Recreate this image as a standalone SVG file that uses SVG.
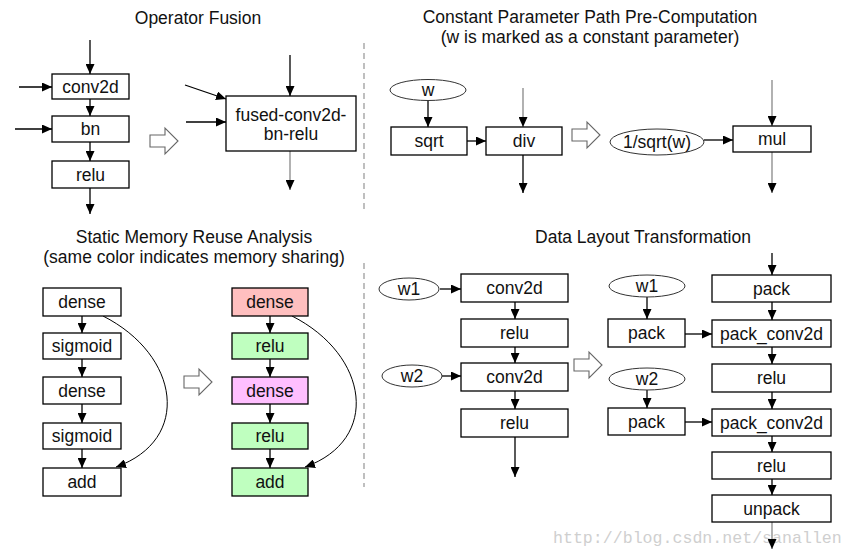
<svg xmlns="http://www.w3.org/2000/svg" width="855" height="555" viewBox="0 0 855 555">
<style>
  .bg{fill:#fff}
  .box{fill:#fff;stroke:#000;stroke-width:1.3}
  .ell{fill:#fff;stroke:#333;stroke-width:1}
  .t{font-family:"Liberation Sans",Arial,sans-serif;font-size:17.5px;fill:#111;text-anchor:middle}
  .title{font-family:"Liberation Sans",Arial,sans-serif;font-size:17.5px;fill:#111;text-anchor:middle}
  .c{stroke:#000;stroke-width:1.3;fill:none;marker-end:url(#ah)}
  .g{stroke:#888}
  .curve{stroke:#000;stroke-width:1;fill:none;marker-end:url(#ah)}
  .dash{stroke:#aaa;stroke-width:1.5;stroke-dasharray:6,4;fill:none}
  .hollow{fill:#fff;stroke:#666;stroke-width:1.1}
  .red{fill:#ffbfbf}
  .green{fill:#bfffbf}
  .mag{fill:#ffbfff}
  .wm{font-family:"Liberation Mono","DejaVu Sans Mono",monospace;font-size:16.6px;fill:#cfcfcf}
</style>
<defs>
  <marker id="ah" markerUnits="userSpaceOnUse" markerWidth="10" markerHeight="9" refX="10" refY="4.5" orient="auto">
    <path d="M0,0 L10,4.5 L0,9 Z" fill="#000"/>
  </marker>
  <path id="harrow" d="M0,7 H15 V0 L28,13 L15,26 V19 H0 Z"/>
</defs>
<rect class="bg" x="0" y="0" width="855" height="555"/>

<text class="wm" x="553" y="543">http://blog.csdn.net/sanallen</text>

<g id="titles">
  <text class="title" x="198" y="24">Operator Fusion</text>
  <text class="title" x="590" y="23">Constant Parameter Path Pre-Computation</text>
  <text class="title" x="590" y="43">(w is marked as a constant parameter)</text>
  <text class="title" x="194" y="243">Static Memory Reuse Analysis</text>
  <text class="title" x="194" y="263">(same color indicates memory sharing)</text>
  <text class="title" x="643" y="243">Data Layout Transformation</text>
</g>

<g id="separators">
  <line class="dash" x1="364" y1="43" x2="364" y2="212"/>
  <line class="dash" x1="364" y1="263" x2="364" y2="487"/>
</g>

<g id="transform-arrows">
  <use href="#harrow" class="hollow" x="150" y="128"/>
  <use href="#harrow" class="hollow" x="572" y="122"/>
  <use href="#harrow" class="hollow" x="184" y="369"/>
  <use href="#harrow" class="hollow" x="574" y="352"/>
</g>

<g id="connectors">
  <line class="c" x1="90" y1="40" x2="90" y2="74"/>
  <line class="c" x1="19" y1="87" x2="52" y2="87"/>
  <line class="c" x1="90" y1="99" x2="90" y2="116"/>
  <line class="c" x1="15" y1="129" x2="52" y2="129"/>
  <line class="c" x1="90" y1="142" x2="90" y2="161"/>
  <line class="c" x1="90" y1="188" x2="90" y2="214"/>
  <line class="c" x1="290" y1="55" x2="290" y2="96"/>
  <line class="c" x1="185" y1="85" x2="226" y2="99"/>
  <line class="c" x1="186" y1="122" x2="226" y2="122"/>
  <line class="c g" x1="290" y1="151" x2="290" y2="190"/>
  <line class="c" x1="428" y1="101" x2="428" y2="127"/>
  <line class="c" x1="467" y1="141" x2="486" y2="141"/>
  <line class="c g" x1="523" y1="88" x2="523" y2="127"/>
  <line class="c" x1="523" y1="155" x2="523" y2="193"/>
  <line class="c" x1="704" y1="140" x2="733" y2="140"/>
  <line class="c g" x1="772" y1="80" x2="772" y2="126"/>
  <line class="c g" x1="772" y1="152" x2="772" y2="193"/>
  <line class="c" x1="82" y1="316" x2="82" y2="333"/>
  <line class="c" x1="82" y1="359" x2="82" y2="377"/>
  <line class="c" x1="82" y1="404" x2="82" y2="423"/>
  <line class="c" x1="82" y1="449" x2="82" y2="468"/>
  <path class="curve" d="M103,316 C180,355 192,440 116,467"/>
  <line class="c" x1="270" y1="316" x2="270" y2="333"/>
  <line class="c" x1="270" y1="359" x2="270" y2="377"/>
  <line class="c" x1="270" y1="404" x2="270" y2="423"/>
  <line class="c" x1="270" y1="449" x2="270" y2="468"/>
  <path class="curve" d="M292,316 C369,355 381,440 305,467"/>
  <line class="c" x1="440" y1="289" x2="461" y2="289"/>
  <line class="c" x1="515" y1="277" x2="515" y2="319"/>
  <line class="c" x1="515" y1="347" x2="515" y2="363"/>
  <line class="c" x1="442" y1="376" x2="461" y2="376"/>
  <line class="c" x1="515" y1="391" x2="515" y2="409"/>
  <line class="c" x1="515" y1="437" x2="515" y2="477"/>
  <line class="c" x1="647" y1="297" x2="647" y2="319"/>
  <line class="c" x1="685" y1="334" x2="712" y2="334"/>
  <line class="c" x1="647" y1="390" x2="647" y2="408"/>
  <line class="c" x1="685" y1="422" x2="712" y2="422"/>
  <line class="c" x1="772" y1="253" x2="772" y2="275"/>
  <line class="c" x1="772" y1="302" x2="772" y2="320"/>
  <line class="c" x1="772" y1="347" x2="772" y2="364"/>
  <line class="c" x1="772" y1="392" x2="772" y2="409"/>
  <line class="c" x1="772" y1="436" x2="772" y2="452"/>
  <line class="c" x1="772" y1="479" x2="772" y2="495"/>
  <line class="c g" x1="772" y1="522" x2="772" y2="549"/>
</g>

<g id="of-conv2d"><rect class="box" x="52" y="74" width="77" height="25"/><text class="t" x="90.5" y="92.5">conv2d</text></g>
<g id="of-bn"><rect class="box" x="52" y="116" width="77" height="26"/><text class="t" x="90.5" y="135">bn</text></g>
<g id="of-relu"><rect class="box" x="52" y="161" width="77" height="27"/><text class="t" x="90.5" y="180.5">relu</text></g>
<g id="of-fused"><rect class="box" x="226" y="96" width="130" height="55"/><text class="t" x="291" y="121">fused-conv2d-</text><text class="t" x="291" y="140">bn-relu</text></g>

<g id="cp-w"><ellipse class="ell" cx="428" cy="90" rx="38" ry="10.5"/><text class="t" x="428" y="96">w</text></g>
<g id="cp-sqrt"><rect class="box" x="391" y="127" width="76" height="28"/><text class="t" x="429" y="147">sqrt</text></g>
<g id="cp-div"><rect class="box" x="486" y="127" width="76" height="28"/><text class="t" x="524" y="147">div</text></g>
<g id="cp-inv"><ellipse class="ell" cx="657" cy="142" rx="47" ry="13"/><text class="t" x="657" y="148">1/sqrt(w)</text></g>
<g id="cp-mul"><rect class="box" x="733" y="126" width="78" height="26"/><text class="t" x="772" y="145">mul</text></g>

<g id="sm-l-dense1"><rect class="box" x="43" y="288" width="78" height="28"/><text class="t" x="82" y="308">dense</text></g>
<g id="sm-l-sigmoid1"><rect class="box" x="43" y="333" width="78" height="26"/><text class="t" x="82" y="352">sigmoid</text></g>
<g id="sm-l-dense2"><rect class="box" x="43" y="377" width="78" height="27"/><text class="t" x="82" y="396.5">dense</text></g>
<g id="sm-l-sigmoid2"><rect class="box" x="43" y="423" width="78" height="26"/><text class="t" x="82" y="442">sigmoid</text></g>
<g id="sm-l-add"><rect class="box" x="43" y="468" width="78" height="28"/><text class="t" x="82" y="488">add</text></g>

<g id="sm-r-dense1"><rect class="box red" x="232" y="288" width="76" height="28"/><text class="t" x="270" y="308">dense</text></g>
<g id="sm-r-relu1"><rect class="box green" x="232" y="333" width="76" height="26"/><text class="t" x="270" y="352">relu</text></g>
<g id="sm-r-dense2"><rect class="box mag" x="232" y="377" width="76" height="27"/><text class="t" x="270" y="396.5">dense</text></g>
<g id="sm-r-relu2"><rect class="box green" x="232" y="423" width="76" height="26"/><text class="t" x="270" y="442">relu</text></g>
<g id="sm-r-add"><rect class="box green" x="232" y="468" width="76" height="28"/><text class="t" x="270" y="488">add</text></g>

<g id="dl-w1"><ellipse class="ell" cx="409" cy="289" rx="30" ry="11"/><text class="t" x="409" y="295">w1</text></g>
<g id="dl-conv2d1"><rect class="box" x="461" y="274" width="107" height="28"/><text class="t" x="514.5" y="294">conv2d</text></g>
<g id="dl-relu1"><rect class="box" x="461" y="319" width="107" height="28"/><text class="t" x="514.5" y="339">relu</text></g>
<g id="dl-w2"><ellipse class="ell" cx="412" cy="376" rx="30" ry="11"/><text class="t" x="412" y="382">w2</text></g>
<g id="dl-conv2d2"><rect class="box" x="461" y="363" width="107" height="28"/><text class="t" x="514.5" y="383">conv2d</text></g>
<g id="dl-relu2"><rect class="box" x="461" y="409" width="107" height="28"/><text class="t" x="514.5" y="429">relu</text></g>

<g id="dl-w1b"><ellipse class="ell" cx="647" cy="286" rx="38" ry="11"/><text class="t" x="647" y="292">w1</text></g>
<g id="dl-pack-w1"><rect class="box" x="608" y="319" width="77" height="28"/><text class="t" x="646.5" y="339">pack</text></g>
<g id="dl-w2b"><ellipse class="ell" cx="647" cy="379" rx="38" ry="11"/><text class="t" x="647" y="385">w2</text></g>
<g id="dl-pack-w2"><rect class="box" x="608" y="408" width="77" height="27"/><text class="t" x="646.5" y="427.5">pack</text></g>

<g id="dl-pack"><rect class="box" x="712" y="275" width="119" height="27"/><text class="t" x="771.5" y="294.5">pack</text></g>
<g id="dl-pconv1"><rect class="box" x="712" y="320" width="119" height="27"/><text class="t" x="771.5" y="339.5">pack_conv2d</text></g>
<g id="dl-relu3"><rect class="box" x="712" y="364" width="119" height="28"/><text class="t" x="771.5" y="384">relu</text></g>
<g id="dl-pconv2"><rect class="box" x="712" y="409" width="119" height="27"/><text class="t" x="771.5" y="428.5">pack_conv2d</text></g>
<g id="dl-relu4"><rect class="box" x="712" y="452" width="119" height="27"/><text class="t" x="771.5" y="471.5">relu</text></g>
<g id="dl-unpack"><rect class="box" x="712" y="495" width="119" height="27"/><text class="t" x="771.5" y="514.5">unpack</text></g>
</svg>
